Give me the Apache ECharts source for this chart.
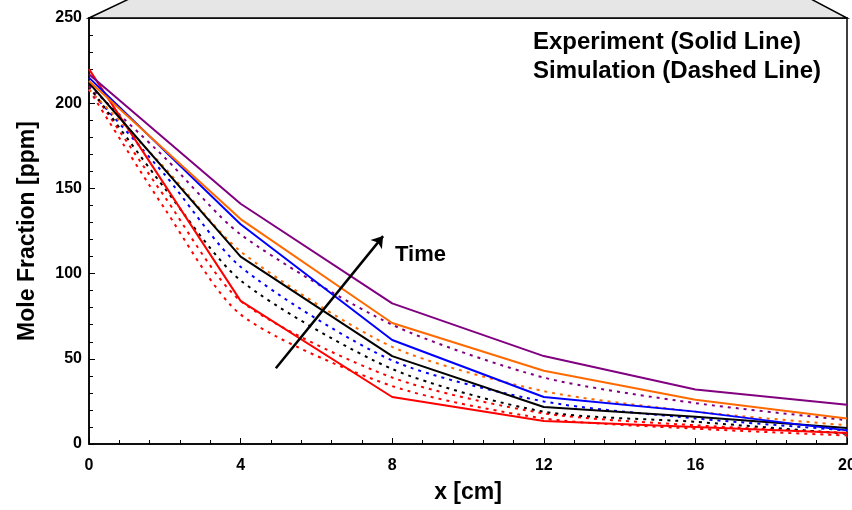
<!DOCTYPE html>
<html>
<head>
<meta charset="utf-8">
<script src="https://cdn.jsdelivr.net/npm/echarts@6/dist/echarts.min.js"></script>
<style>
  html, body { margin: 0; padding: 0; background: #fff; }
  #chart { width: 852px; height: 510px; }
</style>
</head>
<body>
<div id="chart"></div>
<script>
// positions along the bed (cm)
const xExp = [0, 4, 8, 12, 16, 20];
const xSim = [0, 2, 4, 8, 12, 16, 20];

// experiment (solid lines), earliest -> latest
const expRed = [220, 84, 27.6, 13.5, 10, 6.5];
const expBlack = [212, 110, 51.6, 21.7, 16, 9.4];
const expBlue = [215, 129, 61, 27.6, 19, 8];
const expOrange = [213, 132, 71, 43, 26, 15];
const expPurple = [217, 141, 82.5, 51.6, 32, 23];

// simulation (dashed lines)
const simRed1 = [208, 138, 76, 34, 15, 9, 5];
const simRed2 = [210, 145, 84, 39, 18, 11, 6.5];
const simBlack = [210, 150, 96, 44, 19, 13, 6];
const simBlue = [208, 158, 104, 49, 25, 15, 8];
const simOrange = [208, 162, 113, 57, 31, 19, 11];
const simPurple = [210, 168, 123, 70, 39, 24, 14];

// arrow "Time"
const arrowFrom = [4.93, 44.5];
const arrowTo = [7.76, 122];

const RED = '#ff0000', BLACK = '#000000', BLUE = '#0000ff', ORANGE = '#ff6a00', PURPLE = '#800080';

const pairs = (xs, ys) => xs.map((x, i) => [x, ys[i]]);

const solid = (ys, color) => ({
  type: 'line',
  data: pairs(xExp, ys),
  symbol: 'none',
  lineStyle: { color: color, width: 2 },
  z: 3,
});

const dashed = (ys, color) => ({
  type: 'line',
  data: pairs(xSim, ys),
  symbol: 'none',
  smooth: 0.25,
  lineStyle: { color: color, width: 2, type: [3, 5] },
  z: 2,
});

const G = { left: 89, right: 5, top: 18, bottom: 66 };
const font = 'Arial, "Liberation Sans", sans-serif';

const myChart = echarts.init(document.getElementById('chart'));

myChart.setOption({
  animation: false,
  backgroundColor: '#fff',
  grid: { ...G, outerBoundsMode: 'none', show: true, borderColor: '#000', borderWidth: 1.5 },
  xAxis: {
    type: 'value',
    min: 0,
    max: 20,
    interval: 4,
    name: 'x [cm]',
    nameLocation: 'middle',
    nameGap: 37,
    nameTextStyle: { fontSize: 23, fontWeight: 'bold', color: '#000', fontFamily: font },
    axisLine: { lineStyle: { color: '#000', width: 1.5 } },
    axisTick: { inside: true, length: 6, lineStyle: { color: '#000' } },
    minorTick: { show: true, splitNumber: 5, length: 4, lineStyle: { color: '#000' } },
    axisLabel: { fontSize: 16, fontWeight: 'bold', color: '#000', margin: 14, fontFamily: font },
    splitLine: { show: false },
  },
  yAxis: {
    type: 'value',
    min: 0,
    max: 250,
    interval: 50,
    name: 'Mole Fraction [ppm]',
    nameLocation: 'middle',
    nameGap: 50,
    nameTextStyle: { fontSize: 23, fontWeight: 'bold', color: '#000', fontFamily: font },
    axisLine: { show: true, lineStyle: { color: '#000', width: 1.5 } },
    axisTick: { show: true, inside: true, length: 6, lineStyle: { color: '#000' } },
    minorTick: { show: true, splitNumber: 5, length: 4, lineStyle: { color: '#000' } },
    axisLabel: { fontSize: 16, fontWeight: 'bold', color: '#000', margin: 7, fontFamily: font },
    splitLine: { show: false },
  },
  graphic: [
    {
      // grey lid of the box above the plot
      type: 'polygon',
      shape: { points: [[G.left, G.top], [G.left + 42, -2], [852 - G.right - 38, -2], [852 - G.right, G.top]] },
      style: { fill: '#e6e6e6', stroke: '#000', lineWidth: 1.5 },
      z: 10,
    },
    {
      type: 'text',
      left: 533,
      top: 30,
      style: { text: 'Experiment (Solid Line)', font: 'bold 24px ' + font, fill: '#000' },
    },
    {
      type: 'text',
      left: 533,
      top: 59,
      style: { text: 'Simulation (Dashed Line)', font: 'bold 24px ' + font, fill: '#000' },
    },
    {
      type: 'text',
      left: 395,
      top: 244,
      style: { text: 'Time', font: 'bold 22px ' + font, fill: '#000' },
    },
  ],
  series: [
    dashed(simRed1, RED),
    dashed(simRed2, RED),
    dashed(simBlack, BLACK),
    dashed(simBlue, BLUE),
    dashed(simOrange, ORANGE),
    dashed(simPurple, PURPLE),
    solid(expRed, RED),
    solid(expBlack, BLACK),
    solid(expBlue, BLUE),
    solid(expOrange, ORANGE),
    {
      ...solid(expPurple, PURPLE),
      markLine: {
        silent: true,
        symbol: ['none', 'arrow'],
        symbolSize: 11,
        label: { show: false },
        lineStyle: { color: '#000', width: 2.5, type: 'solid' },
        data: [[{ coord: arrowFrom }, { coord: arrowTo }]],
        z: 5,
      },
    },
  ],
});
</script>
</body>
</html>
